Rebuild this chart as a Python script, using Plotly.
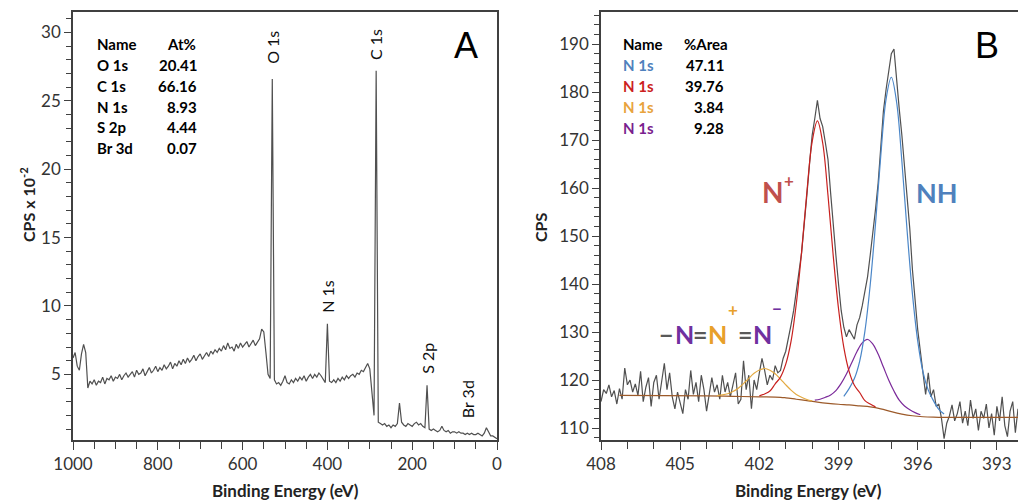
import numpy as np
import plotly.graph_objects as go

W, H = 1018, 504

# ---------------- Panel A : survey spectrum (CPS x 10^-2), 5 eV steps 1000 -> 0 eV
survey_energy = list(range(1000, -1, -5))
survey_cps = [
    6.2, 6.6, 5.6, 5.3, 6.5, 7.2, 6.6, 4.0, 4.5, 4.3,   # 1000-955
    4.6, 4.2, 4.5, 4.4, 4.8, 4.3, 4.7, 4.6, 4.9, 4.5,   # 950-905
    4.8, 4.7, 5.0, 4.6, 4.9, 5.1, 4.8, 5.0, 5.2, 4.8,   # 900-855
    5.3, 5.0, 5.1, 5.4, 4.9, 5.2, 5.5, 5.1, 5.3, 5.6,   # 850-805
    5.2, 5.5, 5.3, 5.7, 5.4, 5.6, 5.9, 5.4, 5.8, 5.6,   # 800-755
    6.0, 5.7, 6.1, 5.8, 6.2, 5.9, 6.1, 6.4, 6.0, 6.3,   # 750-705
    6.5, 6.1, 6.4, 6.6, 6.3, 6.7, 6.5, 6.8, 6.6, 6.9,   # 700-655
    6.7, 7.1, 6.8, 7.3, 6.9, 7.0, 6.7, 7.2, 6.9, 7.3,   # 650-605
    7.0, 7.2, 7.4, 7.0, 7.3, 7.5, 7.1, 7.4, 7.6, 8.3,   # 600-555
    8.1, 6.6, 5.0, 4.7, 26.6, 4.6, 4.3, 4.4, 4.2, 4.5,  # 550-505
    4.9, 4.4, 4.3, 4.6, 4.4, 4.7, 4.5, 4.8, 4.6, 4.9,   # 500-455
    4.5, 4.8, 5.0, 4.7, 5.0, 4.8, 5.1, 4.9, 4.6, 4.4,   # 450-405
    8.7, 4.5, 4.4, 4.6, 4.4, 4.7, 4.5, 4.8, 4.6, 4.9,   # 400-355
    4.7, 4.9, 5.0, 4.8, 5.1, 5.0, 5.3, 5.2, 5.5, 5.8,   # 350-305
    5.4, 3.6, 2.0, 27.2, 1.5, 1.4, 1.3, 1.4, 1.2, 1.3,  # 300-255
    1.1, 1.3, 1.2, 1.4, 2.9, 1.5, 1.3, 1.2, 1.4, 1.3,   # 250-205
    1.2, 1.4, 1.5, 1.3, 1.4, 1.2, 1.1, 4.2, 1.0, 0.9,   # 200-155
    1.0, 0.9, 0.8, 0.9, 1.2, 0.9, 0.8, 0.9, 0.7, 0.8,   # 150-105
    0.8, 0.7, 0.8, 0.7, 0.7, 0.6, 0.7, 0.6, 0.7, 0.6,   # 100-55
    0.6, 0.7, 0.6, 0.5, 0.7, 1.1, 0.8, 0.5, 0.5, 0.4,   # 50-5
    0.3,                                                # 0
]

peak_labels = ["O 1s", "C 1s", "N 1s", "S 2p", "Br 3d"]
peak_label_x = [530, 285, 400, 163, 68]
peak_label_y = [28.9, 29.1, 10.7, 6.2, 3.2]

at_names = ["O 1s", "C 1s", "N 1s", "S 2p", "Br 3d"]
at_values = ["20.41", "66.16", "8.93", "4.44", "0.07"]

# ---------------- Panel B : N 1s high resolution (CPS), 0.1 eV steps 408.0 -> 392.2 eV
hr_energy = np.round(408.0 - 0.1 * np.arange(159), 1)
hr_cps = [
    115.5, 118.0, 117.2, 119.0, 116.5, 117.8, 115.0, 118.2, 116.0, 122.5,  # 408.0-407.1
    119.0, 120.0, 117.5, 119.2, 116.8, 121.8, 115.5, 118.5, 120.5, 114.5,  # 407.0-406.1
    119.5, 121.0, 116.0, 120.0, 123.5, 118.0, 121.5, 116.5, 114.0, 117.5,  # 406.0-405.1
    115.0, 113.0, 118.0, 116.0, 122.0, 117.0, 119.5, 115.5, 121.0, 118.0,  # 405.0-404.1
    113.5, 117.0, 120.5, 117.5, 119.0, 116.0, 121.0, 117.5, 119.5, 116.5,  # 404.0-403.1
    119.0, 121.5, 115.0, 116.0, 124.0, 118.0, 121.0, 114.0, 120.0, 118.0,  # 403.0-402.1
    121.5, 124.5, 122.0, 119.0, 121.0, 120.0, 123.0, 121.5, 122.0, 124.5,  # 402.0-401.1
    126.0, 128.5, 131.5, 134.5, 138.0, 142.5, 146.5, 152.0, 158.5, 165.0,  # 401.0-400.1
    171.0, 174.5, 178.3, 174.5, 172.8, 169.5, 166.0, 159.0, 152.0, 146.0,  # 400.0-399.1
    140.0, 134.5, 131.0, 129.0, 130.5, 129.5, 128.5, 131.5, 133.0, 135.5,  # 399.0-398.1
    138.5, 141.5, 146.0, 150.5, 155.5, 161.0, 168.0, 176.0, 180.5, 184.0,  # 398.0-397.1
    188.0, 189.0, 182.0, 176.5, 171.0, 164.5, 157.5, 151.5, 143.0, 136.5,  # 397.0-396.1
    130.5, 126.0, 122.0, 117.0, 121.5, 116.5, 118.0, 114.5, 115.0, 112.0,  # 396.0-395.1
    107.8, 111.0, 112.5, 114.8, 111.5, 113.0, 115.5, 111.0, 113.5, 110.5,  # 395.0-394.1
    115.8, 112.0, 114.0, 109.5, 113.5, 112.0, 115.0, 110.0, 113.0, 108.5,  # 394.0-393.1
    114.5, 111.5, 116.5, 110.5, 108.2, 113.5, 115.5, 109.0, 114.0,         # 393.0-392.2
]

# Shirley-type background
bg_energy = [407.3, 404.0, 403.0, 402.0, 401.2, 401.0, 400.6, 400.2, 399.8, 399.4, 399.0,
             398.6, 398.2, 397.8, 397.4, 397.0, 396.6, 396.2, 395.8, 395.4, 395.0, 392.2]
bg_cps = [116.8, 116.7, 116.6, 116.5, 116.4, 116.3, 116.0, 115.7, 115.4, 115.15, 114.95,
          114.8, 114.6, 114.4, 114.0, 113.4, 112.9, 112.55, 112.35, 112.25, 112.2, 112.2]

# fitted components (0.2 eV steps)
orange_energy = np.round(403.6 - 0.2 * np.arange(19), 1)
orange_cps = [116.75, 116.9, 117.15, 117.6, 118.3, 119.25, 120.35, 121.4, 122.1, 122.4,
              122.05, 121.3, 120.2, 119.0, 117.9, 117.0, 116.4, 115.95, 115.65]

red_energy = np.round(402.0 - 0.2 * np.arange(23), 1)
red_cps = [116.7, 117.1, 117.7, 119.2, 120.6, 123.3, 128.05, 135.9, 146.65, 159.1, 169.65,
           174.0, 169.4, 158.55, 145.85, 134.85, 126.8, 121.8, 118.9, 117.4, 115.7, 115.0, 114.4]

blue_energy = np.round(398.8 - 0.2 * np.arange(20), 1)
blue_cps = [116.6, 118.2, 120.3, 123.9, 130.2, 139.8, 152.5, 166.7, 178.5, 183.1,
            177.95, 165.6, 151.0, 137.95, 128.15, 121.65, 117.9, 115.65, 113.9, 112.9]

purple_energy = np.round(399.9 - 0.2 * np.arange(21), 1)
purple_cps = [115.8, 116.0, 116.4, 116.9, 117.8, 119.3, 121.25, 123.6, 125.95, 127.75, 128.45,
              127.5, 125.4, 122.7, 120.0, 117.7, 115.8, 114.6, 113.8, 113.2, 112.75]

area_names = ["N 1s", "N 1s", "N 1s", "N 1s"]
area_values = ["47.11", "39.76", "3.84", "9.28"]

# ---------------- styles
C_RAW = "#505050"
C_BLUE = "#4a86c8"
C_RED = "#c8201e"
C_ORANGE = "#e3a941"
C_PURPLE = "#7b2a9a"
C_BG = "#9c5a2a"
TXT_COLORS = ["#4f81bd", "#cc1f1f", "#e8a33d", "#7a1f8f"]
AX = "#404040"
FONT = "Lato"
GRAY_T = "#595959"
PURP_T = "#7030a0"
ORNG_T = "#e8a02a"


def px(x):
    return x / W


def py(y):
    return 1 - y / H


fig = go.Figure()
fig.add_trace(go.Scatter(x=survey_energy, y=survey_cps, mode="lines",
                         line=dict(color=C_RAW, width=1.2), xaxis="x", yaxis="y",
                         showlegend=False))

fig.add_trace(go.Scatter(x=hr_energy, y=hr_cps, mode="lines",
                         line=dict(color=C_RAW, width=1.2), xaxis="x2", yaxis="y2",
                         showlegend=False))
for xs, ys, col in [(bg_energy, bg_cps, C_BG), (orange_energy, orange_cps, C_ORANGE),
                    (purple_energy, purple_cps, C_PURPLE), (blue_energy, blue_cps, C_BLUE),
                    (red_energy, red_cps, C_RED)]:
    fig.add_trace(go.Scatter(x=xs, y=ys, mode="lines", line=dict(color=col, width=1.2, shape="spline"),
                             xaxis="x2", yaxis="y2", showlegend=False))

axis_common = dict(showline=True, linecolor=AX, linewidth=1.5, ticks="outside", ticklen=8,
                   tickwidth=1.3, tickcolor=AX, showgrid=False, zeroline=False, automargin=False,
                   tickfont=dict(family=FONT, size=17, color="#333333"))

ydom = [py(440), py(12)]
fig.update_layout(
    width=W, height=H, margin=dict(l=0, r=0, t=0, b=0, autoexpand=False),
    paper_bgcolor="white", plot_bgcolor="white", showlegend=False,
    xaxis=dict(axis_common, domain=[px(73), px(497)], range=[1000, 0], dtick=200, tick0=0,
               mirror=True, anchor="y",
               minor=dict(dtick=50, ticklen=7, tickcolor=AX, ticks="outside", showgrid=False)),
    yaxis=dict(axis_common, domain=ydom, range=[0.2, 31.5], dtick=5, tick0=0, mirror=True,
               anchor="x", ticklen=7,
               minor=dict(dtick=1, ticklen=5, tickcolor=AX, ticks="outside", showgrid=False)),
    xaxis2=dict(axis_common, domain=[px(601), 1.0], range=[408, 392.2], dtick=3, tick0=408,
                mirror=True, anchor="y2",
                minor=dict(dtick=1, ticklen=7, tickcolor=AX, ticks="outside", showgrid=False)),
    yaxis2=dict(axis_common, domain=ydom, range=[107.5, 196.7], dtick=10, tick0=110,
                anchor="x2", ticklen=7,
                minor=dict(dtick=2, ticklen=5, tickcolor=AX, ticks="outside", showgrid=False)),
)

ann = []


def label(x, y, text, size, color="black", anchor="center", family=FONT, angle=0):
    ann.append(dict(x=px(x), y=py(y), xref="paper", yref="paper", text=text, showarrow=False,
                    xanchor=anchor, yanchor="middle", textangle=angle,
                    font=dict(family=family, size=size, color=color)))


# axis titles
label(285, 490, "<b>Binding Energy (eV)</b>", 17, "#222222")
label(808, 490, "<b>Binding Energy (eV)</b>", 17, "#222222")
label(27, 205, "<b>CPS x 10<sup>-2</sup></b>", 16, "#222222", angle=-90)
label(541, 228, "<b>CPS</b>", 16, "#222222", angle=-90)

# panel letters
label(466, 45, "A", 36, family="Liberation Sans")
label(987, 45, "B", 36, family="Liberation Sans")

# survey peak labels (data coordinates)
for t, x, y in zip(peak_labels, peak_label_x, peak_label_y):
    ann.append(dict(x=x, y=y, xref="x", yref="y", text=t, textangle=-90, showarrow=False,
                    xanchor="center", yanchor="middle",
                    font=dict(family=FONT, size=16, color="#111111")))

# At% table
row_y = [44, 65, 86, 107, 127, 148]
label(95, row_y[0], "<b>Name</b>", 15, anchor="left")
label(165, row_y[0], "<b>At%</b>", 15, anchor="left")
for i, (n, v) in enumerate(zip(at_names, at_values)):
    label(95, row_y[i + 1], "<b>%s</b>" % n, 15, anchor="left")
    label(199, row_y[i + 1], "<b>%s</b>" % v, 15, anchor="right")

# %Area table
row_y2 = [44, 65, 86, 107, 128]
label(621, row_y2[0], "<b>Name</b>", 15, anchor="left")
label(682, row_y2[0], "<b>%Area</b>", 15, anchor="left")
for i, (n, v) in enumerate(zip(area_names, area_values)):
    label(621, row_y2[i + 1], "<b>%s</b>" % n, 15, TXT_COLORS[i], anchor="left")
    label(726, row_y2[i + 1], "<b>%s</b>" % v, 15, anchor="right")

# chemical labels in panel B
label(773, 192, "<b>N</b>", 28, "#c0504d")
label(789, 180, "<b>+</b>", 17, "#c0504d")
label(937, 192, "<b>NH</b>", 27, "#4f81bd")
# azide group  -N=N(+)=N(-)
label(666, 334, "<b>\u2212</b>", 25, GRAY_T)
label(684, 334, "<b>N</b>", 25, PURP_T)
label(700, 334, "<b>=</b>", 25, GRAY_T)
label(717, 334, "<b>N</b>", 25, ORNG_T)
label(733, 309, "<b>+</b>", 17, ORNG_T)
label(745, 334, "<b>=</b>", 25, GRAY_T)
label(762, 334, "<b>N</b>", 25, PURP_T)
label(777, 308, "<b>\u2212</b>", 17, PURP_T)

fig.update_layout(annotations=ann)
fig.write_html("out.html")
